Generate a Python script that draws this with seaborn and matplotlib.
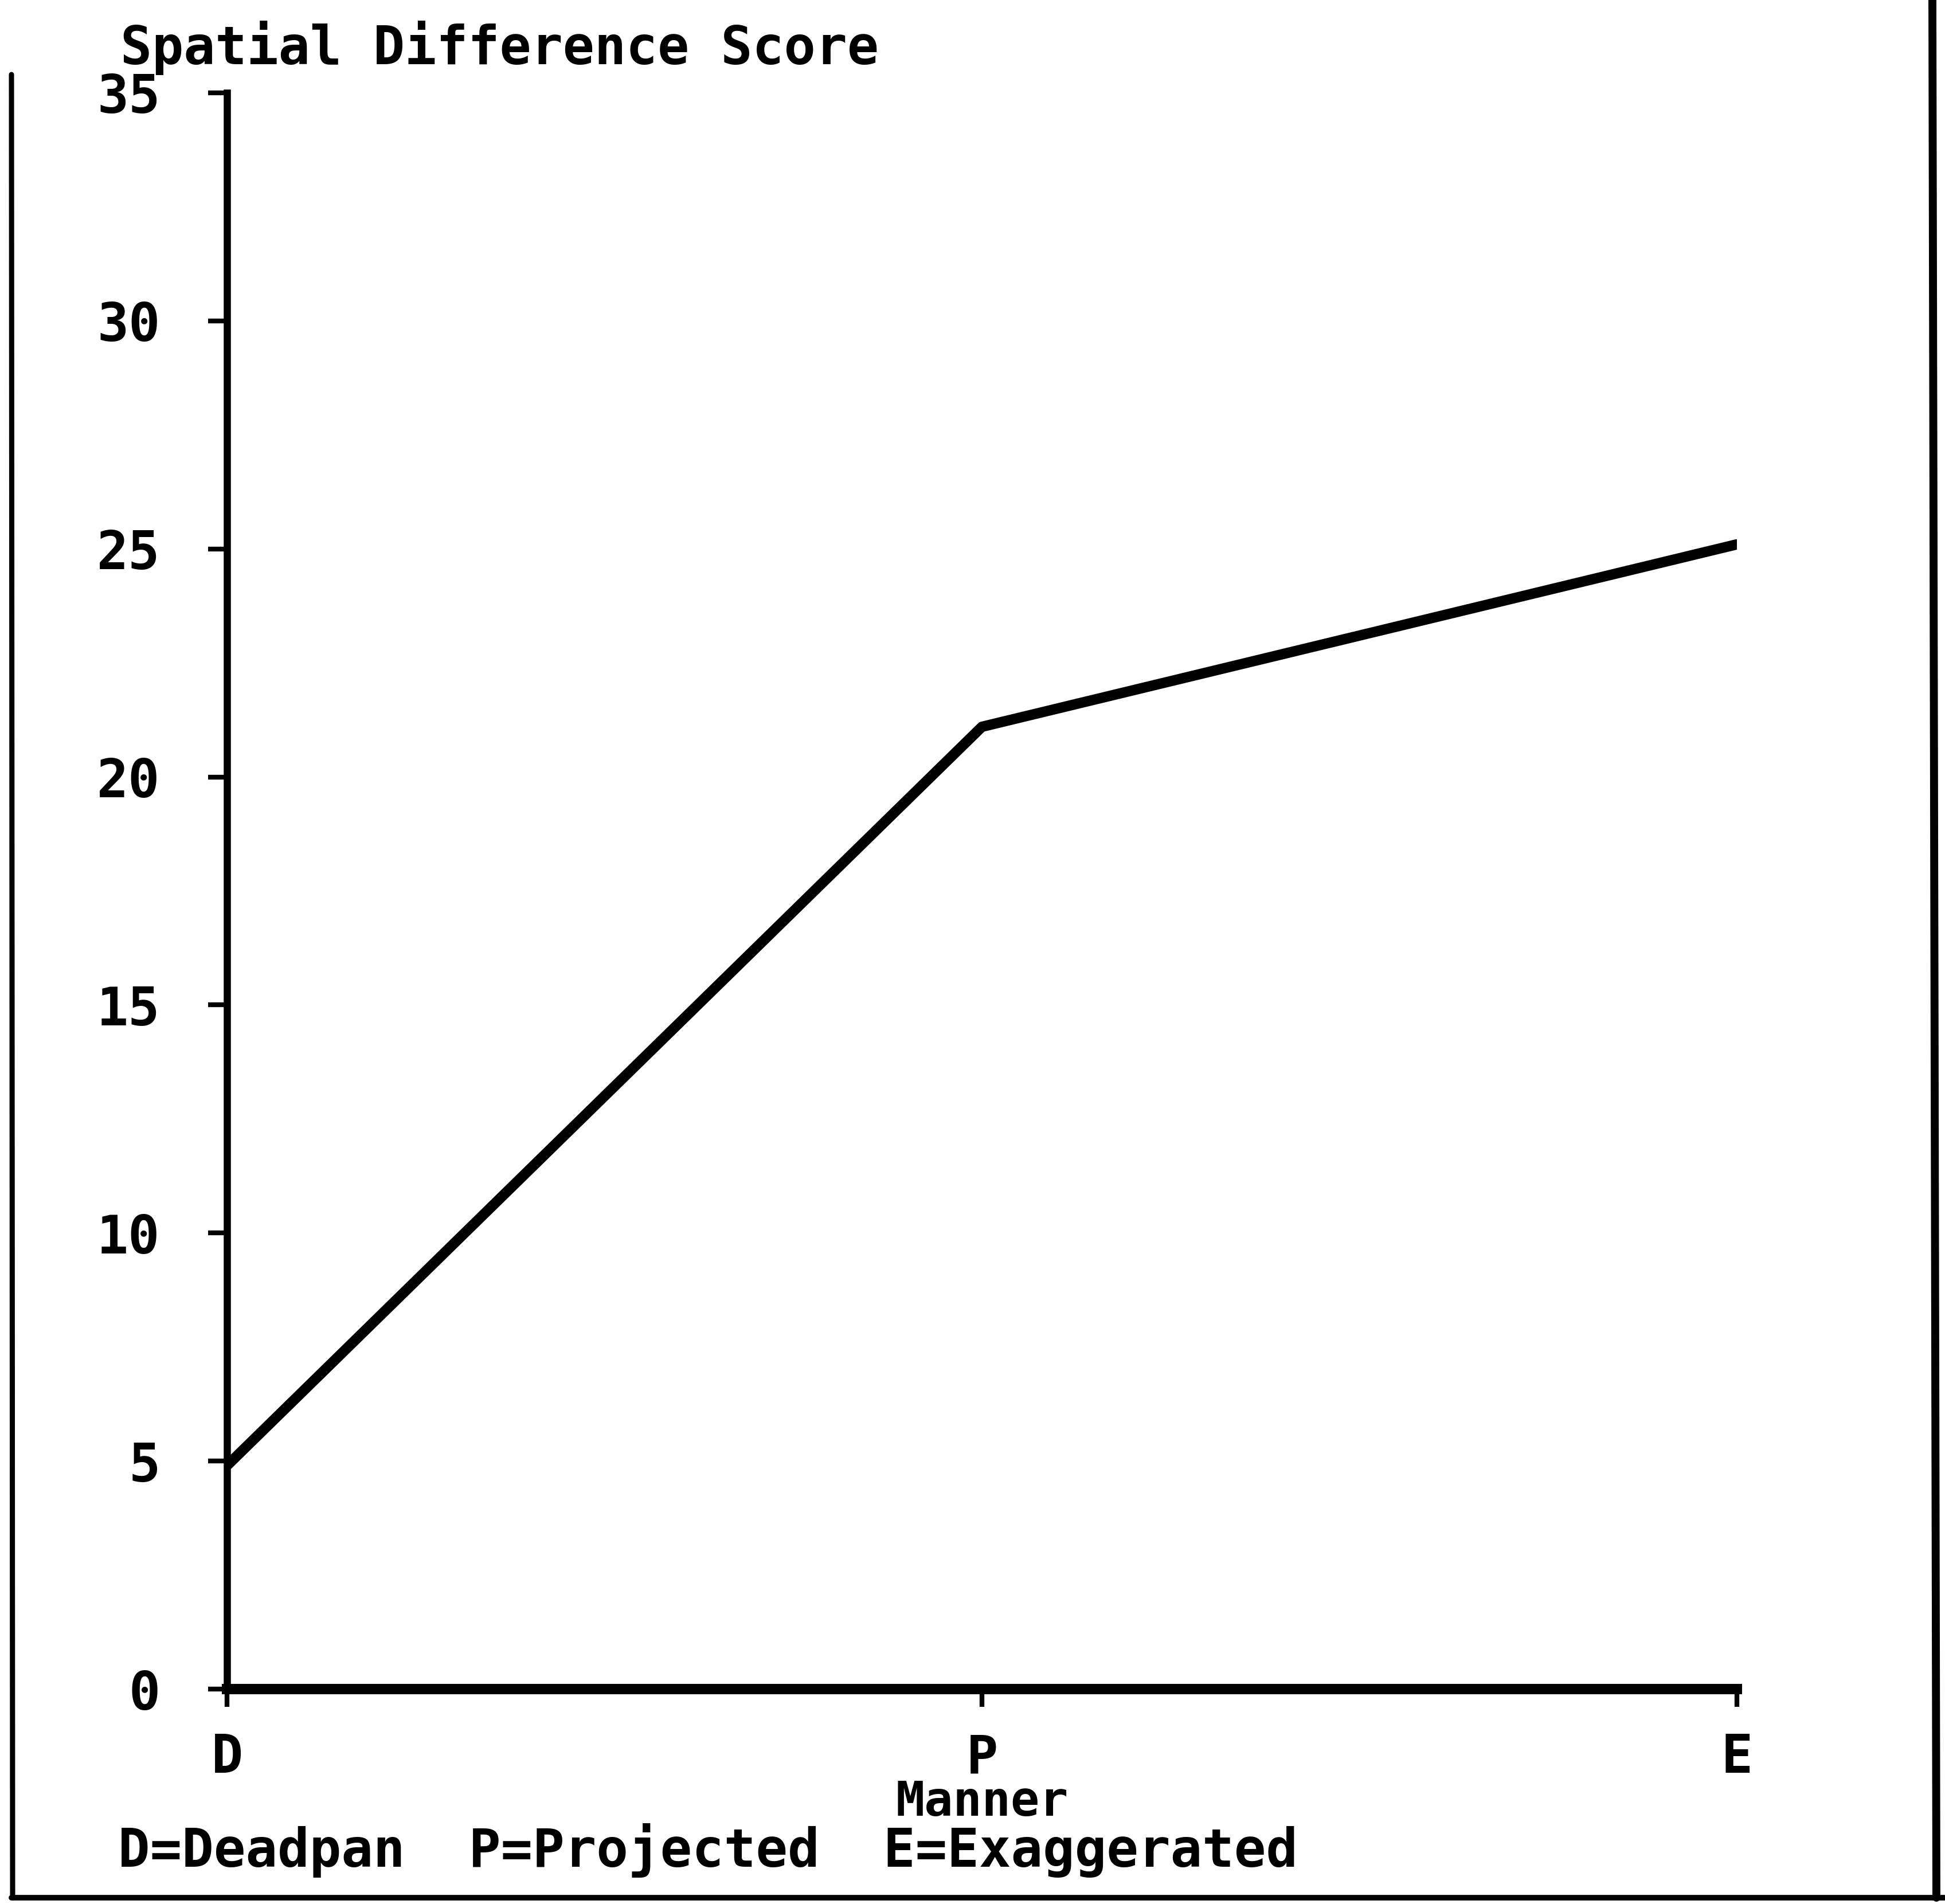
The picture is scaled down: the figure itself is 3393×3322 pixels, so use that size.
import matplotlib
matplotlib.use("Agg")
import matplotlib.pyplot as plt
from matplotlib.lines import Line2D
import matplotlib.transforms as mtransforms
import seaborn as sns
import pandas as pd

# ---- data ----
manner = ["D", "P", "E"]
score = [4.9, 21.1, 25.1]
y_ticks = [0, 5, 10, 15, 20, 25, 30, 35]
y_title = "Spatial Difference Score"
x_title = "Manner"
footnote = "D=Deadpan  P=Projected  E=Exaggerated"

sns.set_theme(style="white")
plt.rcParams["font.family"] = ["DejaVu Sans Mono", "DejaVu Sans"]
plt.rcParams["font.weight"] = "bold"

W, H = 3393, 3322
fig = plt.figure(figsize=(W / 100, H / 100), dpi=100)
fig.patch.set_facecolor("white")
ax = fig.add_axes([396 / W, 1 - 2947 / H, (3030 - 396) / W, (2947 - 162) / H])
ax.set_facecolor("white")

df = pd.DataFrame({"Manner": manner, "Score": score})
sns.lineplot(data=df, x="Manner", y="Score", color="black", linewidth=13,
             sort=False, ax=ax, solid_capstyle="round", solid_joinstyle="round")

ax.set_xlim(0, 2)
ax.set_ylim(0, 35)
ax.set_yticks(y_ticks)
ax.set_yticklabels([str(t) for t in y_ticks])
ax.set_xticks(range(len(manner)))
ax.set_xticklabels(manner)
ax.set_xlabel("")
ax.set_ylabel("")

for s in ["top", "right"]:
    ax.spines[s].set_visible(False)
ax.spines["left"].set_linewidth(9)
ax.spines["bottom"].set_linewidth(13)
ax.spines["left"].set_color("black")
ax.spines["bottom"].set_color("black")

ax.tick_params(axis="y", direction="out", length=24, width=6, pad=60,
               labelsize=66, colors="black", left=True)
ax.tick_params(axis="x", direction="out", length=22, width=6, pad=32,
               labelsize=66, colors="black", bottom=True)
for lab in ax.get_xticklabels() + ax.get_yticklabels():
    lab.set_fontweight("bold")

# axis titles
fig.text(210 / W, 1 - 112 / H, y_title, ha="left", va="baseline",
         fontsize=66, fontweight="bold", color="black")
trans = mtransforms.blended_transform_factory(ax.transData, fig.transFigure)
ax.text(1, 1 - 3168 / H, x_title, transform=trans, ha="center", va="baseline",
        fontsize=60, fontweight="bold", color="black")
fig.text(206 / W, 1 - 3257 / H, footnote, ha="left", va="baseline",
         fontsize=66.5, fontweight="bold", color="black")

# page frame from the scanned original
fig.add_artist(Line2D([20 / W, 22 / W], [1 - 130 / H, 1 - 3311 / H],
                      transform=fig.transFigure, color="black", linewidth=6.5))
fig.add_artist(Line2D([20 / W, 1.0], [1 - 3311 / H, 1 - 3311 / H],
                      transform=fig.transFigure, color="black", linewidth=7))
fig.add_artist(Line2D([3371 / W, 3378 / W], [1.0, 1 - 3311 / H],
                      transform=fig.transFigure, color="black", linewidth=10))

fig.savefig("out.png", dpi=100, facecolor="white")
